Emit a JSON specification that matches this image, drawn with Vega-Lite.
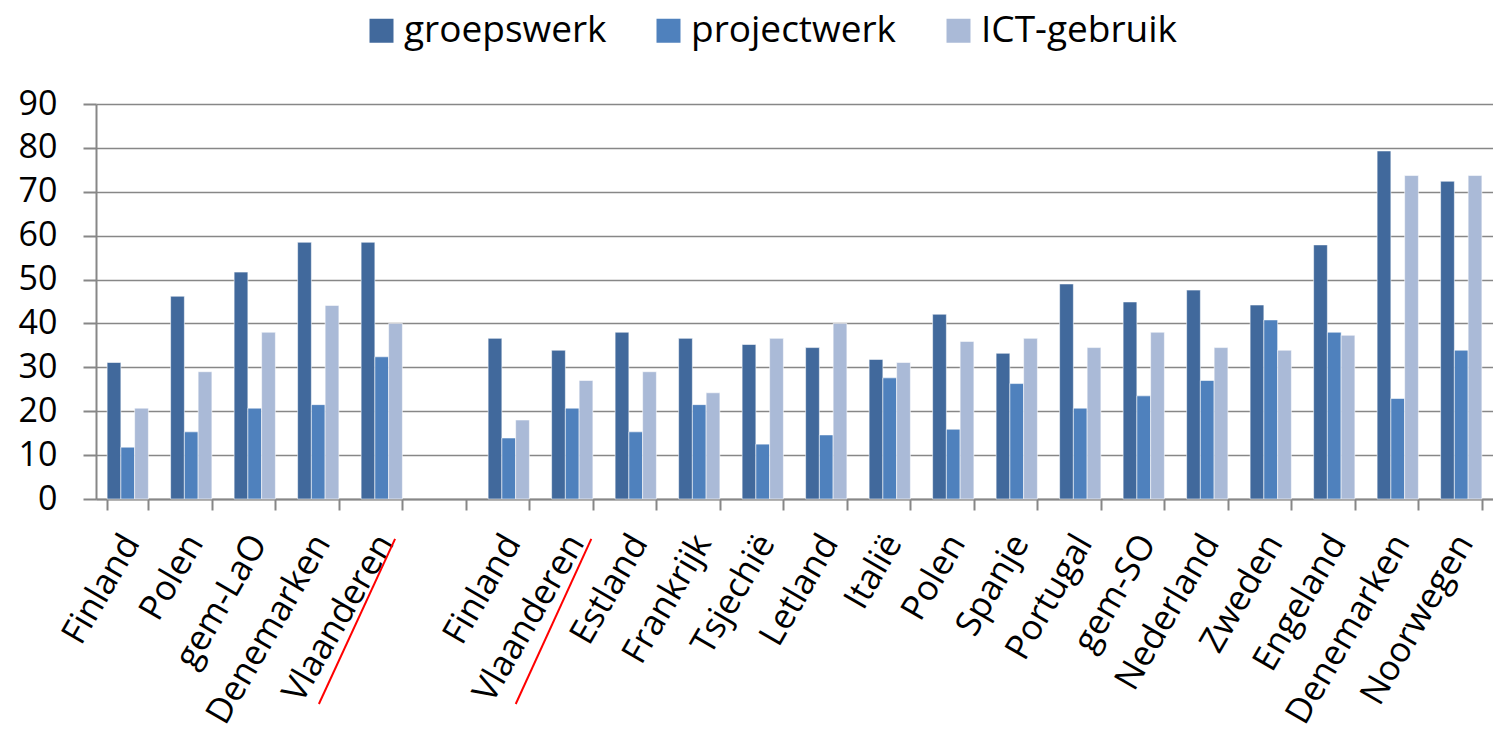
{
  "$schema": "https://vega.github.io/schema/vega-lite/v6.json",
  "autosize": "none",
  "width": 1397,
  "height": 395,
  "padding": {"left": 96, "top": 104, "right": 0, "bottom": 231},
  "config": {
    "font": "Open Sans",
    "view": {"stroke": null},
    "axis": {"labelColor": "#000000", "domainColor": "#878787", "tickColor": "#878787", "gridColor": "#878787", "domainWidth": 2, "tickWidth": 2, "gridWidth": 1.6, "titleFontSize": 0}
  },
  "resolve": {"scale": {"x": "independent"}, "axis": {"x": "independent"}},
  "layer": [
    {
      "data": {"values": [
        {"key": "01|Finland", "series": "groepswerk", "value": 31.1},
        {"key": "01|Finland", "series": "projectwerk", "value": 11.8},
        {"key": "01|Finland", "series": "ICT-gebruik", "value": 20.7},
        {"key": "02|Polen", "series": "groepswerk", "value": 46.2},
        {"key": "02|Polen", "series": "projectwerk", "value": 15.3},
        {"key": "02|Polen", "series": "ICT-gebruik", "value": 29.0},
        {"key": "03|gem-LaO", "series": "groepswerk", "value": 51.7},
        {"key": "03|gem-LaO", "series": "projectwerk", "value": 20.7},
        {"key": "03|gem-LaO", "series": "ICT-gebruik", "value": 38.0},
        {"key": "04|Denemarken", "series": "groepswerk", "value": 58.5},
        {"key": "04|Denemarken", "series": "projectwerk", "value": 21.5},
        {"key": "04|Denemarken", "series": "ICT-gebruik", "value": 44.1},
        {"key": "05|Vlaanderen", "series": "groepswerk", "value": 58.5},
        {"key": "05|Vlaanderen", "series": "projectwerk", "value": 32.4},
        {"key": "05|Vlaanderen", "series": "ICT-gebruik", "value": 40.0},
        {"key": "07|Finland", "series": "groepswerk", "value": 36.6},
        {"key": "07|Finland", "series": "projectwerk", "value": 13.9},
        {"key": "07|Finland", "series": "ICT-gebruik", "value": 18.0},
        {"key": "08|Vlaanderen", "series": "groepswerk", "value": 33.9},
        {"key": "08|Vlaanderen", "series": "projectwerk", "value": 20.7},
        {"key": "08|Vlaanderen", "series": "ICT-gebruik", "value": 27.0},
        {"key": "09|Estland", "series": "groepswerk", "value": 38.0},
        {"key": "09|Estland", "series": "projectwerk", "value": 15.3},
        {"key": "09|Estland", "series": "ICT-gebruik", "value": 29.0},
        {"key": "10|Frankrijk", "series": "groepswerk", "value": 36.6},
        {"key": "10|Frankrijk", "series": "projectwerk", "value": 21.5},
        {"key": "10|Frankrijk", "series": "ICT-gebruik", "value": 24.2},
        {"key": "11|Tsjechië", "series": "groepswerk", "value": 35.2},
        {"key": "11|Tsjechië", "series": "projectwerk", "value": 12.5},
        {"key": "11|Tsjechië", "series": "ICT-gebruik", "value": 36.6},
        {"key": "12|Letland", "series": "groepswerk", "value": 34.5},
        {"key": "12|Letland", "series": "projectwerk", "value": 14.6},
        {"key": "12|Letland", "series": "ICT-gebruik", "value": 40.0},
        {"key": "13|Italië", "series": "groepswerk", "value": 31.8},
        {"key": "13|Italië", "series": "projectwerk", "value": 27.6},
        {"key": "13|Italië", "series": "ICT-gebruik", "value": 31.1},
        {"key": "14|Polen", "series": "groepswerk", "value": 42.1},
        {"key": "14|Polen", "series": "projectwerk", "value": 15.9},
        {"key": "14|Polen", "series": "ICT-gebruik", "value": 35.9},
        {"key": "15|Spanje", "series": "groepswerk", "value": 33.2},
        {"key": "15|Spanje", "series": "projectwerk", "value": 26.3},
        {"key": "15|Spanje", "series": "ICT-gebruik", "value": 36.6},
        {"key": "16|Portugal", "series": "groepswerk", "value": 49.0},
        {"key": "16|Portugal", "series": "projectwerk", "value": 20.7},
        {"key": "16|Portugal", "series": "ICT-gebruik", "value": 34.5},
        {"key": "17|gem-SO", "series": "groepswerk", "value": 44.9},
        {"key": "17|gem-SO", "series": "projectwerk", "value": 23.5},
        {"key": "17|gem-SO", "series": "ICT-gebruik", "value": 38.0},
        {"key": "18|Nederland", "series": "groepswerk", "value": 47.6},
        {"key": "18|Nederland", "series": "projectwerk", "value": 27.0},
        {"key": "18|Nederland", "series": "ICT-gebruik", "value": 34.5},
        {"key": "19|Zweden", "series": "groepswerk", "value": 44.2},
        {"key": "19|Zweden", "series": "projectwerk", "value": 40.8},
        {"key": "19|Zweden", "series": "ICT-gebruik", "value": 33.9},
        {"key": "20|Engeland", "series": "groepswerk", "value": 57.9},
        {"key": "20|Engeland", "series": "projectwerk", "value": 38.0},
        {"key": "20|Engeland", "series": "ICT-gebruik", "value": 37.3},
        {"key": "21|Denemarken", "series": "groepswerk", "value": 79.3},
        {"key": "21|Denemarken", "series": "projectwerk", "value": 22.9},
        {"key": "21|Denemarken", "series": "ICT-gebruik", "value": 73.7},
        {"key": "22|Noorwegen", "series": "groepswerk", "value": 72.4},
        {"key": "22|Noorwegen", "series": "projectwerk", "value": 33.9},
        {"key": "22|Noorwegen", "series": "ICT-gebruik", "value": 73.7}
      ]},
      "mark": {"type": "bar", "stroke": "#ffffff", "strokeWidth": 0.8, "strokeOpacity": 0.7},
      "encoding": {
        "x": {
          "field": "key", "type": "nominal",
          "scale": {
            "domain": ["01|Finland", "02|Polen", "03|gem-LaO", "04|Denemarken", "05|Vlaanderen", "06|", "07|Finland", "08|Vlaanderen", "09|Estland", "10|Frankrijk", "11|Tsjechië", "12|Letland", "13|Italië", "14|Polen", "15|Spanje", "16|Portugal", "17|gem-SO", "18|Nederland", "19|Zweden", "20|Engeland", "21|Denemarken", "22|Noorwegen"],
            "paddingInner": 0.35, "paddingOuter": 0.175
          },
          "axis": {
            "title": null,
            "labelExpr": "split(datum.value, '|')[1]",
            "labelAngle": -60,
            "labelAlign": "right",
            "labelBaseline": "middle",
            "labelFontSize": 35,
            "labelPadding": 27,
            "labelOffset": 3,
            "labelLimit": 400,
            "tickSize": 11,
            "tickBand": "extent",
            "grid": false,
            "labelOverlap": false
          }
        },
        "xOffset": {"field": "series", "type": "nominal", "scale": {"domain": ["groepswerk", "projectwerk", "ICT-gebruik"], "paddingInner": 0}},
        "y": {
          "field": "value", "type": "quantitative",
          "scale": {"domain": [0, 90], "nice": false},
          "axis": {
            "title": null,
            "values": [0, 10, 20, 30, 40, 50, 60, 70, 80, 90],
            "labelFontSize": 34,
            "tickSize": 13,
            "labelPadding": 26,
            "grid": true
          }
        },
        "color": {
          "field": "series", "type": "nominal",
          "scale": {"domain": ["groepswerk", "projectwerk", "ICT-gebruik"], "range": ["#41699C", "#4F81BD", "#AABAD7"]},
          "legend": {
            "title": null,
            "orient": "none",
            "direction": "horizontal",
            "legendX": 267,
            "legendY": -92,
            "padding": 0,
            "symbolType": "square",
            "symbolSize": 576,
            "symbolStrokeWidth": 0,
            "labelFontSize": 37,
            "labelOffset": 4,
            "labelLimit": 400,
            "columnPadding": 43
          }
        }
      }
    },
    {
      "data": {"values": [
        {"sx": 4.71, "sy": -9.1, "sx2": 3.51, "sy2": -46.7},
        {"sx": 7.80, "sy": -9.1, "sx2": 6.61, "sy2": -46.7}
      ]},
      "mark": {"type": "rule", "color": "#FF0000", "strokeWidth": 2},
      "encoding": {
        "x": {"field": "sx", "type": "quantitative", "scale": {"domain": [0, 22], "nice": false, "zero": false}, "axis": null},
        "x2": {"field": "sx2"},
        "y": {"field": "sy", "type": "quantitative"},
        "y2": {"field": "sy2"}
      }
    }
  ]
}
